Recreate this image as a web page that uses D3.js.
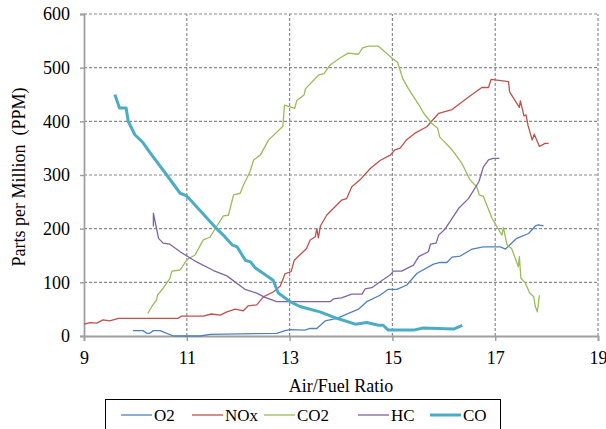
<!DOCTYPE html>
<html>
<head>
<meta charset="utf-8">
<script src="https://cdn.jsdelivr.net/npm/d3@7"></script>
<style>
  body { margin: 0; background: #fff; }
  text { font-family: "Liberation Serif", "Times New Roman", serif; fill: #000; }
</style>
</head>
<body>
<div id="chart"></div>
<script>
// emissions vs air/fuel ratio
var o2Data = [[9.95,10],[10.15,10],[10.22,5],[10.28,5],[10.35,10],[10.48,10],[10.74,0],[11.26,0],[11.45,3],
    [12.75,5],[12.91,10],[13.01,12],[13.3,11],[13.4,14],[13.53,14],[13.69,28],[13.92,33],[14.34,50],[14.5,64],
    [14.76,76],[14.92,87],[15.09,87],[15.28,95],[15.48,117],[15.8,134],[15.93,137],[16.06,137],[16.16,147],
    [16.32,149],[16.55,162],[16.77,166],[17.1,166],[17.2,162],[17.42,182],[17.65,191],[17.78,205],[17.84,207],[17.94,205]];

var noxData = [[9.0,22],[9.12,25],[9.25,24],[9.37,30],[9.5,28],[9.67,33],[10.83,33],[10.9,37],[11.32,37],
    [11.48,41],[11.65,39],[11.78,45],[11.94,50],[12.1,47],[12.19,56],[12.36,58],[12.49,73],[12.68,82],[12.82,93],
    [12.91,116],[13.03,120],[13.09,141],[13.33,163],[13.4,179],[13.5,185],[13.53,200],[13.56,183],[13.6,205],
    [13.72,225],[14.01,253],[14.11,256],[14.21,278],[14.37,291],[14.57,312],[14.76,327],[14.96,337],[15.05,347],
    [15.15,350],[15.27,365],[15.44,378],[15.67,390],[15.9,415],[16.16,422],[16.45,443],[16.74,463],[16.87,463],
    [16.92,478],[17.26,474],[17.28,455],[17.47,426],[17.49,438],[17.56,410],[17.6,412],[17.64,392],[17.72,365],
    [17.76,376],[17.86,353],[17.97,359],[18.04,359]];

var co2Data = [[10.24,42],[10.32,55],[10.41,67],[10.43,76],[10.54,89],[10.67,107],[10.71,121],[10.87,123],
    [11.0,142],[11.16,151],[11.32,179],[11.45,184],[11.58,204],[11.71,224],[11.81,225],[11.91,263],[12.04,266],
    [12.1,281],[12.23,306],[12.3,328],[12.43,337],[12.59,365],[12.87,391],[12.9,430],[13.1,424],[13.14,439],
    [13.28,449],[13.31,461],[13.56,486],[13.67,489],[13.79,505],[13.98,518],[14.14,527],[14.34,525],[14.42,537],
    [14.53,540],[14.73,540],[14.99,518],[15.1,510],[15.2,480],[15.31,461],[15.54,427],[15.61,415],[15.77,396],
    [15.88,387],[15.92,371],[16.16,347],[16.35,322],[16.51,291],[16.64,278],[16.69,263],[16.77,260],[16.94,219],
    [17.13,188],[17.16,202],[17.23,170],[17.32,163],[17.45,129],[17.47,148],[17.5,108],[17.59,98],[17.67,80],
    [17.75,73],[17.78,55],[17.82,45],[17.86,76]];

var hcData = [[10.35,204],[10.35,229],[10.45,182],[10.54,173],[10.67,171],[10.87,157],[11.19,138],[11.52,122],
    [11.78,112],[12.13,87],[12.36,80],[12.52,72],[12.75,64],[13.79,64],[13.85,69],[14.01,71],[14.21,78],
    [14.41,78],[14.47,88],[14.6,90],[14.76,101],[14.96,114],[15.02,121],[15.18,121],[15.41,132],[15.51,148],
    [15.7,157],[15.74,171],[15.85,173],[15.9,188],[16.03,200],[16.29,238],[16.48,256],[16.68,287],[16.77,315],
    [16.87,328],[16.96,331],[17.08,331]];

var coData = [[9.6,450],[9.69,425],[9.82,425],[9.86,400],[9.99,375],[10.15,360],[10.28,342],[10.61,300],
    [10.87,266],[11.0,261],[11.55,203],[11.71,188],[11.88,170],[11.98,166],[12.14,141],[12.24,138],[12.33,127],
    [12.68,104],[12.78,80],[13.01,64],[13.2,55],[13.59,45],[13.92,33],[14.28,22],[14.5,25],[14.73,20],[14.82,20],
    [14.92,11],[15.41,11],[15.6,15],[16.19,13],[16.36,20]];

var xTicks = [9, 11, 13, 15, 17, 19];
var yTicks = [0, 100, 200, 300, 400, 500, 600];

var seriesNames = ["O2", "NOx", "CO2", "HC", "CO"];
var seriesColors = ["#4f81bd", "#c0504d", "#9bbb59", "#8064a2", "#4bacc6"];
var seriesWidths = [1.3, 1.3, 1.3, 1.3, 3];
var seriesData = [o2Data, noxData, co2Data, hcData, coData];

const width = 606, height = 429;
const margin = {top: 14, right: 8, bottom: 93, left: 84};

const svg = d3.select("#chart").append("svg")
    .attr("width", width)
    .attr("height", height);

const x = d3.scaleLinear().domain([9, 19]).range([margin.left, width - margin.right]);
const y = d3.scaleLinear().domain([0, 600]).range([height - margin.bottom, margin.top]);

// dashed grid
svg.append("g").selectAll("line")
    .data(yTicks.slice(1))
    .enter().append("line")
    .attr("x1", x(9)).attr("x2", x(19))
    .attr("y1", d => y(d)).attr("y2", d => y(d))
    .attr("stroke", "#8a8a8a")
    .attr("stroke-width", 1.2)
    .attr("stroke-dasharray", "3,2");

svg.append("g").selectAll("line")
    .data(xTicks.slice(1))
    .enter().append("line")
    .attr("x1", d => x(d)).attr("x2", d => x(d))
    .attr("y1", y(0)).attr("y2", y(600))
    .attr("stroke", "#8a8a8a")
    .attr("stroke-width", 1.2)
    .attr("stroke-dasharray", "3,2");

// axes
var yAxis = svg.append("g")
    .attr("transform", "translate(" + x(9) + ",0)")
    .call(d3.axisLeft(y).tickValues(yTicks).tickSize(4).tickPadding(10));

var xAxis = svg.append("g")
    .attr("transform", "translate(0," + y(0) + ")")
    .call(d3.axisBottom(x).tickValues(xTicks).tickSize(5).tickPadding(10));

[xAxis, yAxis].forEach(function(a) {
    a.select(".domain").attr("stroke", "#a0a0a0").attr("stroke-width", 1.8);
    a.selectAll(".tick line").attr("stroke", "#a0a0a0").attr("stroke-width", 1.5);
    a.selectAll(".tick text")
        .style("font-family", '"Liberation Serif", serif')
        .style("font-size", "18px")
        .attr("fill", "#000");
});

// series
var line = d3.line().x(d => x(d[0])).y(d => y(d[1]));

svg.append("g").selectAll("path")
    .data(seriesData)
    .enter().append("path")
    .attr("d", line)
    .attr("fill", "none")
    .attr("stroke", (d, i) => seriesColors[i])
    .attr("stroke-width", (d, i) => seriesWidths[i])
    .attr("stroke-linejoin", "round");

// axis titles
svg.append("text")
    .attr("x", 341)
    .attr("y", 392)
    .attr("text-anchor", "middle")
    .style("font-size", "18px")
    .text("Air/Fuel Ratio");

svg.append("text")
    .attr("transform", "translate(25,177) rotate(-90)")
    .attr("text-anchor", "middle")
    .style("font-size", "18px")
    .style("white-space", "pre")
    .text("Parts per Million  (PPM)");

// legend
var legend = svg.append("g");
legend.append("rect")
    .attr("x", 105.5).attr("y", 399.5)
    .attr("width", 395).attr("height", 40)
    .attr("fill", "#fff")
    .attr("stroke", "#000")
    .attr("stroke-width", 1);

var legendX = [121, 192, 264, 358, 430];
var item = legend.selectAll("g.item")
    .data(seriesNames)
    .enter().append("g")
    .attr("class", "item")
    .attr("transform", (d, i) => "translate(" + legendX[i] + ",415)");

item.append("line")
    .attr("x1", 0).attr("x2", 31)
    .attr("stroke", (d, i) => seriesColors[i])
    .attr("stroke-width", (d, i) => seriesWidths[i]);

item.append("text")
    .attr("x", 33)
    .attr("y", 6)
    .style("font-size", "17px")
    .text(d => d);
</script>
</body>
</html>
